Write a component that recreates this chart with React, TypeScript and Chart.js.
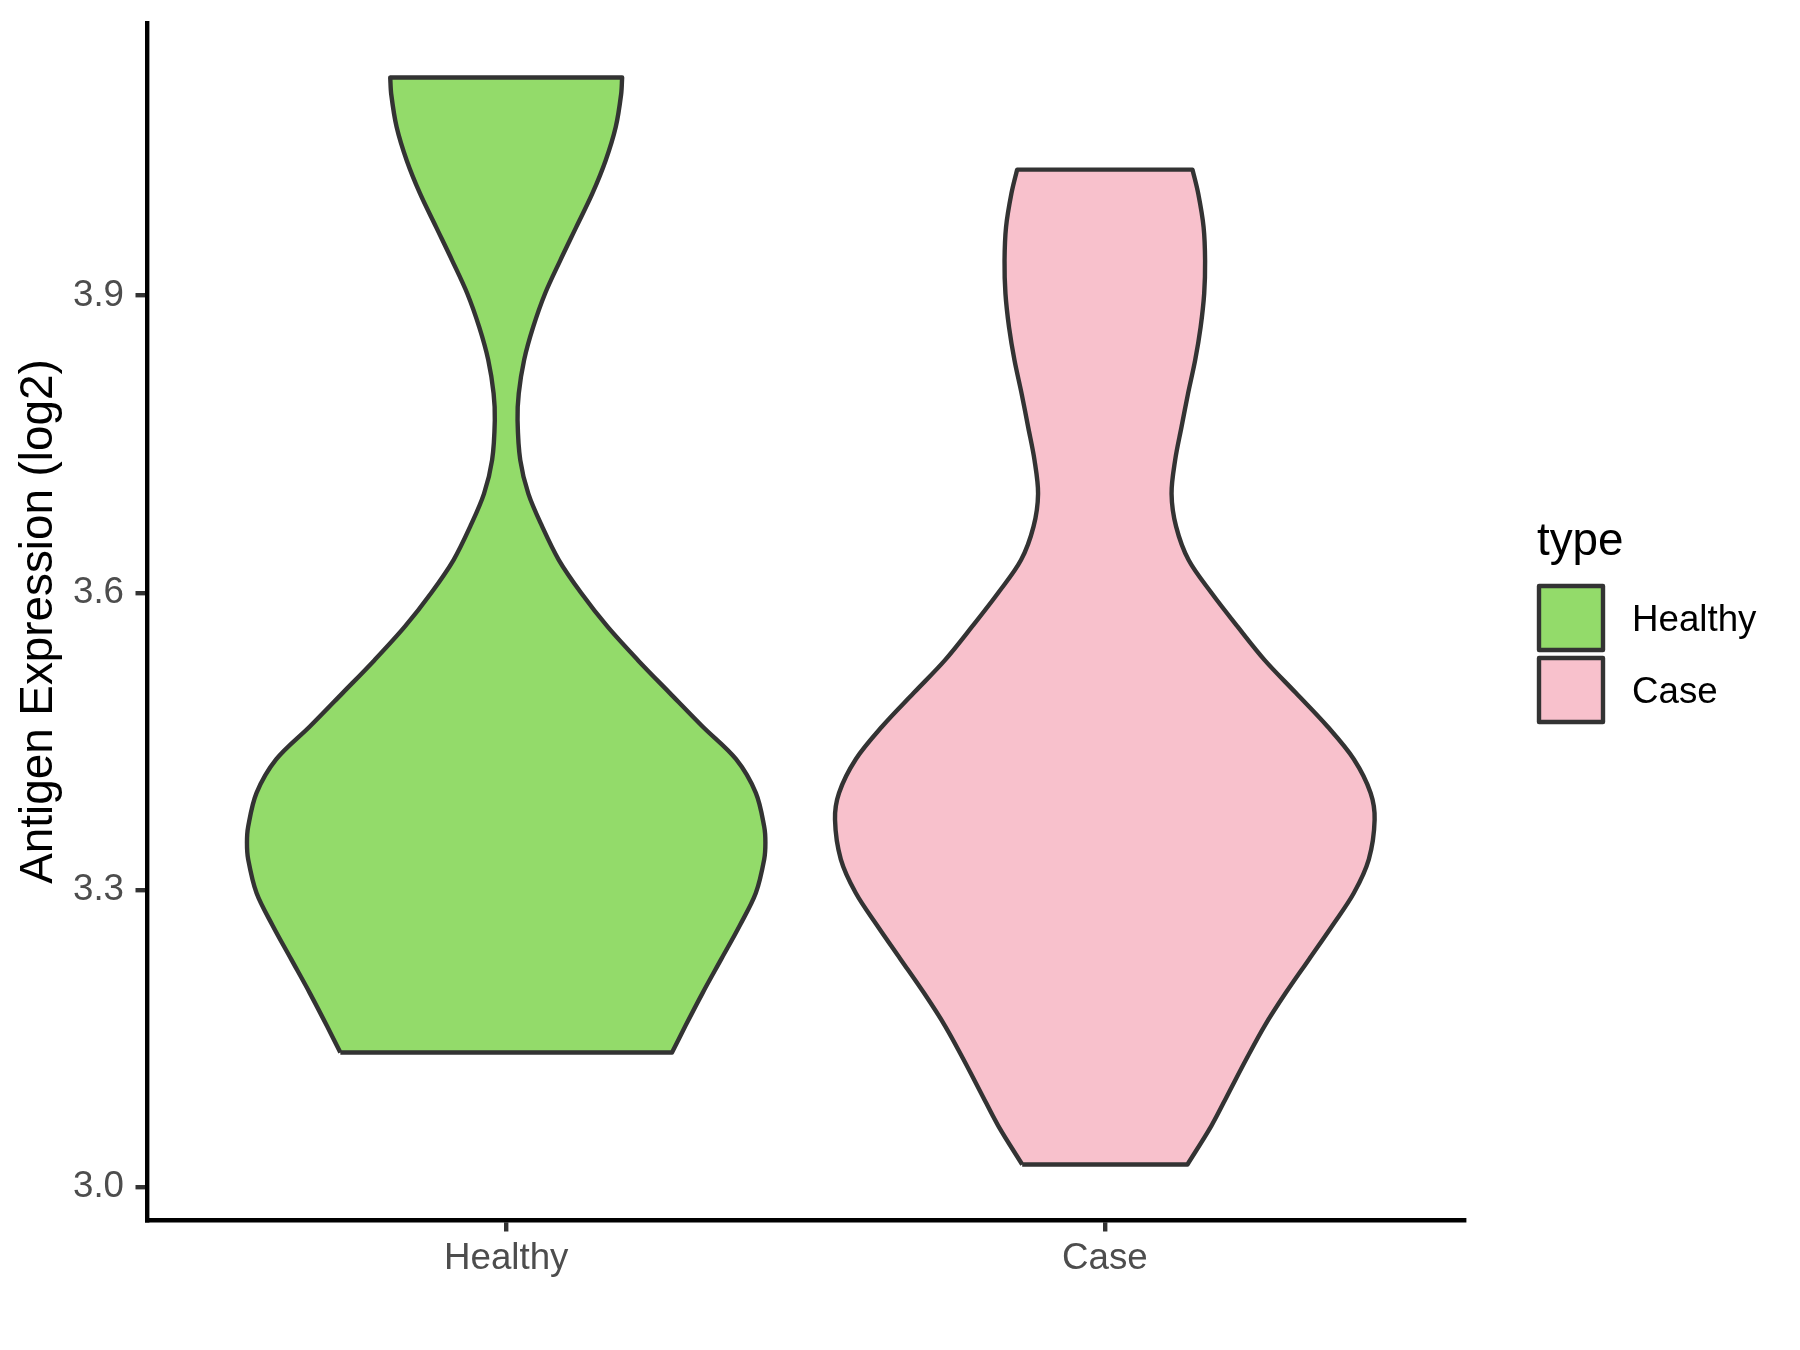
import React, { useEffect, useRef } from 'react';
import { Chart, registerables } from 'chart.js';

Chart.register(...registerables);

const FONT = '"Liberation Sans", Arial, Helvetica, sans-serif';

const categories = ['Healthy', 'Case'];
const fillColors = ['#93DB6A', '#F8C1CC'];
const outlineColor = '#333333';
const yTicks = [3.0, 3.3, 3.6, 3.9];
const yTitle = 'Antigen Expression (log2)';
const legendTitle = 'type';

// Violin outlines: y levels (bottom -> top) and half widths (in category units)
const healthyY = [3.136, 3.163, 3.196, 3.23, 3.264, 3.297, 3.331, 3.348, 3.364, 3.398, 3.432, 3.465, 3.499, 3.532, 3.566, 3.6, 3.633, 3.667, 3.7, 3.734, 3.774, 3.801, 3.835, 3.868, 3.902, 3.935, 3.969, 4.003, 4.036, 4.07, 4.103, 4.12];
const healthyHalfWidth = [0.277, 0.2995, 0.328, 0.359, 0.39, 0.417, 0.431, 0.433, 0.431, 0.417, 0.384, 0.328, 0.273, 0.22, 0.169, 0.125, 0.088, 0.06, 0.037, 0.0235, 0.019, 0.021, 0.03, 0.045, 0.065, 0.09, 0.117, 0.144, 0.166, 0.183, 0.192, 0.1937];

const caseY = [3.023, 3.062, 3.096, 3.129, 3.163, 3.196, 3.23, 3.264, 3.297, 3.331, 3.371, 3.398, 3.432, 3.465, 3.499, 3.532, 3.566, 3.6, 3.633, 3.667, 3.7, 3.734, 3.767, 3.801, 3.835, 3.868, 3.902, 3.935, 3.969, 4.003, 4.027];
const caseHalfWidth = [0.138, 0.178, 0.2075, 0.236, 0.267, 0.302, 0.341, 0.38, 0.416, 0.441, 0.4507, 0.444, 0.416, 0.372, 0.319, 0.267, 0.2215, 0.178, 0.14, 0.119, 0.1115, 0.1175, 0.128, 0.139, 0.151, 0.16, 0.166, 0.1675, 0.165, 0.156, 0.1465];

function outline(center: number, ys: number[], hws: number[]) {
  const n = ys.length;
  const left = ys.map((y, i) => ({ x: center - hws[i], y }));
  const right = ys.map((y, i) => ({ x: center + hws[i], y }));
  const pts: { x: number; y: number }[] = [];
  for (let i = 0; i < n; i++) pts.push(left[i]);
  pts.push({ ...left[n - 1] });
  pts.push(right[n - 1]);
  pts.push({ ...right[n - 1] });
  for (let i = n - 2; i >= 0; i--) pts.push(right[i]);
  pts.push({ ...right[0] });
  pts.push({ ...left[0] });
  return pts;
}

const legendPlugin = {
  id: 'violinLegend',
  afterDraw(chart: any) {
    const ctx = chart.ctx as CanvasRenderingContext2D;
    const x0 = chart.chartArea.right + 73;
    ctx.save();
    ctx.textAlign = 'left';
    ctx.textBaseline = 'alphabetic';
    ctx.fillStyle = '#000000';
    ctx.font = `45.8px ${FONT}`;
    ctx.fillText(legendTitle, x0, 555);
    categories.forEach((name, i) => {
      const top = 586 + i * 72;
      ctx.beginPath();
      ctx.rect(x0 + 2, top, 64, 64);
      ctx.fillStyle = fillColors[i];
      ctx.fill();
      ctx.lineWidth = 4.4;
      ctx.strokeStyle = outlineColor;
      ctx.lineJoin = 'round';
      ctx.stroke();
      ctx.fillStyle = '#000000';
      ctx.font = `36.7px ${FONT}`;
      ctx.fillText(name, x0 + 95, top + 45);
    });
    ctx.restore();
  },
};

export default function App() {
  const ref = useRef<HTMLCanvasElement | null>(null);

  useEffect(() => {
    document.body.style.margin = '0';
    const canvas = ref.current;
    if (!canvas) return;
    const series = [
      { ys: healthyY, hws: healthyHalfWidth },
      { ys: caseY, hws: caseHalfWidth },
    ];
    const chart = new Chart(canvas, {
      type: 'scatter',
      data: {
        datasets: series.map((s, i) => ({
          label: categories[i],
          data: outline(i + 1, s.ys, s.hws),
          showLine: true,
          fill: 'shape',
          backgroundColor: fillColors[i],
          borderColor: outlineColor,
          borderWidth: 4.4,
          borderJoinStyle: 'round',
          pointRadius: 0,
          pointHoverRadius: 0,
          tension: 0.33,
        })) as any,
      },
      options: {
        animation: false,
        responsive: false,
        devicePixelRatio: 1,
        layout: { padding: { top: 23, right: 336, bottom: 0, left: 0 } },
        plugins: {
          legend: { display: false },
          tooltip: { enabled: false },
        },
        events: [],
        scales: {
          x: {
            type: 'linear',
            min: 0.4,
            max: 2.6,
            bounds: 'data',
            afterBuildTicks: (scale: any) => {
              scale.ticks = categories.map((_, i) => ({ value: i + 1 }));
            },
            afterFit: (scale: any) => {
              scale.height = 130;
              scale.paddingLeft = 0;
              scale.paddingRight = 0;
            },
            ticks: {
              autoSkip: false,
              maxRotation: 0,
              padding: 5,
              color: '#4D4D4D',
              font: { size: 36.7, family: FONT },
              callback: (v: any) => categories[Math.round(Number(v)) - 1] ?? '',
            },
            grid: {
              drawOnChartArea: false,
              drawTicks: true,
              tickLength: 11.5,
              color: outlineColor,
              lineWidth: 4.4,
            },
            border: { display: true, color: '#000000', width: 4.4 },
          },
          y: {
            type: 'linear',
            min: 2.967,
            max: 4.175,
            bounds: 'data',
            afterBuildTicks: (scale: any) => {
              scale.ticks = yTicks.map((v) => ({ value: v }));
            },
            afterFit: (scale: any) => {
              scale.width = 147;
              scale.paddingTop = 0;
              scale.paddingBottom = 0;
            },
            ticks: {
              padding: 11.5,
              color: '#4D4D4D',
              font: { size: 36.7, family: FONT },
              callback: (v: any) => Number(v).toFixed(1),
            },
            grid: {
              drawOnChartArea: false,
              drawTicks: true,
              tickLength: 11.5,
              color: outlineColor,
              lineWidth: 4.4,
            },
            border: { display: true, color: '#000000', width: 4.4 },
            title: {
              display: true,
              text: yTitle,
              color: '#000000',
              font: { size: 45.8, family: FONT },
              padding: { top: 11.5, bottom: 0 },
            },
          },
        },
      },
      plugins: [legendPlugin],
    } as any);
    return () => chart.destroy();
  }, []);

  return (
    <div style={{ width: 1800, height: 1350 }}>
      <canvas ref={ref} width={1800} height={1350} style={{ width: 1800, height: 1350, display: 'block' }} />
    </div>
  );
}
